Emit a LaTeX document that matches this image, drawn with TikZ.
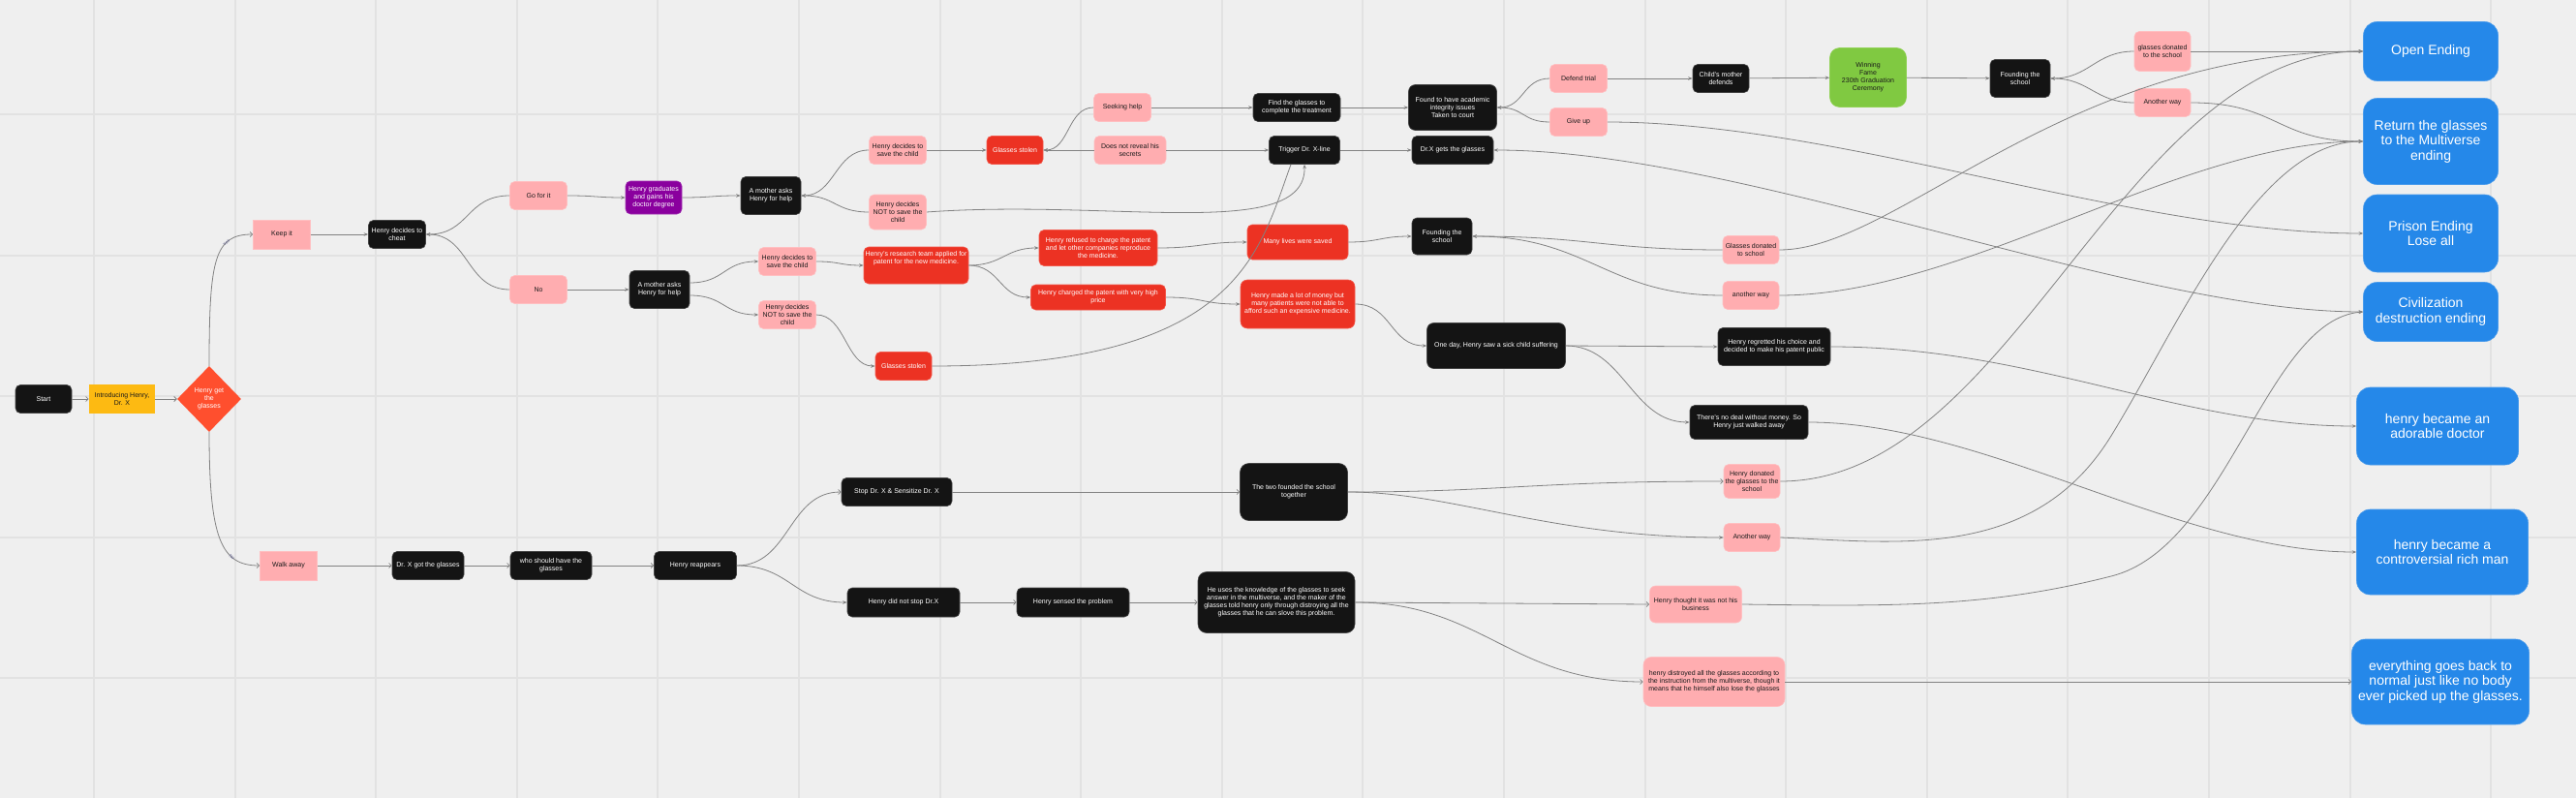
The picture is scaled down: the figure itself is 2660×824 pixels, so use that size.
\documentclass[tikz,border=0pt]{standalone}
\usepackage{fontspec}
\setmainfont{Liberation Sans}
\usetikzlibrary{arrows.meta,shapes.geometric}
\definecolor{bg}{HTML}{EFEFEF}
\definecolor{gridc}{HTML}{E2E2E2}
\definecolor{edgec}{HTML}{828282}
\definecolor{blkc}{HTML}{141414}
\definecolor{blkd}{HTML}{444444}
\definecolor{pnkc}{HTML}{FFADB0}
\definecolor{pnkd}{HTML}{FFBFC1}
\definecolor{redc}{HTML}{EC3223}
\definecolor{redd}{HTML}{F2584B}
\definecolor{bluc}{HTML}{2588E9}
\definecolor{blud}{HTML}{4A9BEB}
\definecolor{grnc}{HTML}{80C941}
\definecolor{grnd}{HTML}{90D155}
\definecolor{purc}{HTML}{8A009E}
\definecolor{purd}{HTML}{A030B0}
\definecolor{yelc}{HTML}{FDBA12}
\definecolor{diac}{HTML}{FF4F2E}
\definecolor{txtd}{HTML}{1A1A1A}
\definecolor{lblc}{HTML}{5A5A8A}
\tikzset{
  nd/.style={rounded corners=5pt, align=center, font=\fontsize{7}{8}\selectfont, inner sep=1pt, line width=0.6pt},
  blk/.style={nd, fill=blkc, draw=blkd, text=white},
  pnk/.style={nd, fill=pnkc, draw=pnkd, text=txtd},
  rdn/.style={nd, fill=redc, draw=redd, text=white},
  blu/.style={nd, rounded corners=14pt, fill=bluc, draw=blud, text=white, font=\fontsize{14}{15.5}\selectfont},
  wh/.style 2 args={minimum width=#1pt, minimum height=#2pt},
  lnk/.style={draw=edgec, line width=0.8pt},
  arr/.style={lnk, -{Stealth[length=4.5pt,width=3.5pt]}},
  arro/.style={lnk, -{Straight Barb[length=2.5pt,width=5pt]}},
  arrb/.style={lnk, {Stealth[length=4.5pt,width=3.5pt]}-{Stealth[length=4.5pt,width=3.5pt]}},
  lab/.style={font=\fontsize{4.5}{5}\selectfont, text=lblc, inner sep=0.5pt},
}
\begin{document}
\begin{tikzpicture}[x=1pt,y=-1pt]
\useasboundingbox (0,0) rectangle (2660,824);
\fill[bg] (0,0) rectangle (2660,824);
\foreach \i in {0,...,17} \draw[gridc, line width=2pt] ({97+145.6*\i},0) -- ({97+145.6*\i},824);
\foreach \j in {0,...,4} \draw[gridc, line width=2pt] (0,{118+145.6*\j}) -- (2660,{118+145.6*\j});

% nodes
\node[blk, wh={58}{29}] (start) at (45,412) {Start};
\node[nd, fill=yelc, text=txtd, rounded corners=0pt, wh={68}{30}] (intro) at (126,412) {Introducing Henry,\\ Dr. X};
\node[diamond, fill=diac, text=white, font=\fontsize{7}{8}\selectfont, align=center, inner sep=0pt, minimum width=66pt, minimum height=68pt] (dia) at (216,412) {Henry get\\ the\\ glasses};
\node[pnk, rounded corners=0pt, wh={59}{30}] (keep) at (291,242) {Keep it};
\node[blk, wh={59}{29}] (cheat) at (410,242) {Henry decides to\\ cheat};
\node[pnk, wh={59}{29}] (gofor) at (556,202) {Go for it};
\node[pnk, wh={59}{29}] (no) at (556,299) {No};
\node[nd, fill=purc, draw=purd, text=white, wh={58}{34}] (grad) at (675,204) {Henry graduates\\ and gains his\\ doctor degree};
\node[blk, wh={62}{39}] (mom1) at (796,202) {A mother asks\\ Henry for help};
\node[blk, wh={62}{39}] (mom2) at (681,299) {A mother asks\\ Henry for help};
\node[pnk, wh={59}{29}] (save1) at (927,155) {Henry decides to\\ save the child};
\node[pnk, wh={59}{36}] (not1) at (927,219) {Henry decides\\ NOT to save the\\ child};
\node[pnk, wh={59}{29}] (save2) at (813,270) {Henry decides to\\ save the child};
\node[pnk, wh={59}{29}] (not2) at (813,325) {Henry decides\\ NOT to save the\\ child};
\node[rdn, wh={58}{29}] (stolen1) at (1048,155) {Glasses stolen};
\node[pnk, wh={59}{29}] (seek) at (1159,111) {Seeking help};
\node[pnk, wh={74}{29}] (secret) at (1167,155) {Does not reveal his\\ secrets};
\node[blk, wh={90}{29}] (find) at (1339,111) {Find the glasses to\\ complete the treatment};
\node[blk, wh={73}{29}] (trig) at (1347,155) {Trigger Dr. X-line};
\node[blk, wh={91}{47}, rounded corners=7pt] (found) at (1500,111) {Found to have academic\\ integrity issues\\ Taken to court};
\node[blk, wh={84}{29}] (drx) at (1500,155) {Dr.X gets the glasses};
\node[pnk, wh={59}{29}] (defend) at (1630,81) {Defend trial};
\node[pnk, wh={59}{29}] (giveup) at (1630,126) {Give up};
\node[blk, wh={58}{29}] (mother) at (1777,81) {Child's mother\\ defends};
\node[nd, fill=grnc, draw=grnd, text=txtd, rounded corners=10pt, wh={79}{61}] (win) at (1929,80) {Winning\\ Fame\\ 230th Graduation\\ Ceremony};
\node[blk, wh={62}{39}] (found2) at (2086,81) {Founding the\\ school};
\node[pnk, wh={58}{41}] (gdon1) at (2233,53) {glasses donated\\ to the school};
\node[pnk, wh={58}{29}] (aw1) at (2233,106) {Another way};
\node[rdn, wh={108}{38}] (research) at (946,274) {Henry's research team applied for\\ patent for the new medicine.\\[8pt]~};
\node[rdn, wh={122}{37}] (refused) at (1134,256) {Henry refused to charge the patent\\ and let other companies reproduce\\ the medicine.};
\node[rdn, wh={139}{26}] (charged) at (1134,307) {Henry charged the patent with very high\\ price};
\node[rdn, wh={58}{29}] (stolen2) at (933,378) {Glasses stolen};
\node[rdn, wh={104}{36}] (lives) at (1340,250) {Many lives were saved};
\node[rdn, wh={118}{50}, rounded corners=7pt] (money) at (1340,314) {Henry made a lot of money but\\ many patients were not able to\\ afford such an expensive medicine.};
\node[blk, wh={62}{38}] (school) at (1489,244) {Founding the\\ school};
\node[blk, wh={143}{47}, rounded corners=7pt] (oneday) at (1545,357) {One day, Henry saw a sick child suffering};
\node[pnk, wh={58}{29}] (gdon2) at (1808,258) {Glasses donated\\ to school};
\node[pnk, wh={58}{29}] (aw2) at (1808,305) {another way};
\node[blk, wh={116}{39}] (regret) at (1832,358) {Henry regretted his choice and\\ decided to make his patent public};
\node[blk, wh={122}{35}] (nodeal) at (1806,436) {There's no deal without money. So\\ Henry just walked away};
\node[pnk, wh={58}{35}] (hdon) at (1809,497) {Henry donated\\ the glasses to the\\ school};
\node[pnk, wh={58}{29}] (aw3) at (1809,555) {Another way};
\node[pnk, rounded corners=0pt, wh={59}{30}] (walk) at (298,584) {Walk away};
\node[blk, wh={74}{29}] (drxgot) at (442,584) {Dr. X got the glasses};
\node[blk, wh={84}{29}] (who) at (569,584) {who should have the\\ glasses};
\node[blk, wh={85}{29}] (reap) at (718,584) {Henry reappears};
\node[blk, wh={114}{29}] (stop) at (926,508) {Stop Dr. X \& Sensitize Dr. X};
\node[blk, wh={116}{30}] (notstop) at (933,622) {Henry did not stop Dr.X};
\node[blk, wh={116}{30}] (sensed) at (1108,622) {Henry sensed the problem};
\node[blk, wh={111}{59}, rounded corners=9pt] (two) at (1336,508) {The two founded the school\\ together};
\node[blk, wh={162}{63}, rounded corners=9pt] (uses) at (1318,622) {He uses the knowledge of the glasses to seek\\ answer in the multiverse, and the maker of the\\ glasses told henry only through distroying all the\\ glasses that he can slove this problem.};
\node[pnk, wh={95}{38}, rounded corners=6pt] (thought) at (1751,624) {Henry thought it was not his\\ business};
\node[pnk, wh={146}{51}, rounded corners=8pt] (destroy) at (1770,704) {henry distroyed all the glasses according to\\ the instruction from the multiverse, though it\\ means that he himself also lose the glasses};
\node[blu, wh={139}{61}] (open) at (2510,53) {Open Ending};
\node[blu, wh={139}{89}] (ret) at (2510,146) {Return the glasses\\ to the Multiverse\\ ending};
\node[blu, wh={139}{80}] (prison) at (2510,241) {Prison Ending\\ Lose all};
\node[blu, wh={139}{61}] (civ) at (2510,322) {Civilization\\ destruction ending};
\node[blu, wh={167}{80}] (adorable) at (2517,440) {henry became an\\ adorable doctor};
\node[blu, wh={177}{88}] (rich) at (2522,570) {henry became a\\ controversial rich man};
\node[blu, wh={183}{88}] (every) at (2520,704) {everything goes back to\\ normal just like no body\\ ever picked up the glasses.};

% edges
\draw[arro] (start) -- (intro);
\draw[arro] (intro) -- (dia);
\draw[arro] (dia.north) .. controls +(0,-110) and +(-40,0) .. (keep.west) node[lab,pos=0.7,sloped]{Yes};
\draw[arro] (dia.south) .. controls +(0,110) and +(-40,0) .. (walk.west) node[lab,pos=0.7,sloped]{No};
\draw[arr] (keep) -- (cheat);
\draw[arr] (gofor.west) .. controls +(-45,0) and +(45,0) .. (cheat.east);
\draw[arr] (no.west) .. controls +(-45,0) and +(45,0) .. (cheat.east);
\draw[arr] (gofor.east) .. controls +(30,0) and +(-30,0) .. (grad.west);
\draw[arr] (grad.east) .. controls +(30,0) and +(-30,0) .. (mom1.west);
\draw[arr] (save1.west) .. controls +(-35,0) and +(35,0) .. (mom1.east);
\draw[arr] (not1.west) .. controls +(-35,0) and +(35,0) .. (mom1.east);
\draw[arr] (no.east) -- (mom2.west);
\draw[arr] ([yshift=7pt]mom2.east) .. controls +(36,0) and +(-36,0) .. (save2.west);
\draw[arr] ([yshift=-6pt]mom2.east) .. controls +(36,0) and +(-36,0) .. (not2.west);
\draw[arr] (save2.east) .. controls +(25,0) and +(-25,0) .. (research.west);
\draw[arr] (not2.east) .. controls +(30,0) and +(-30,0) .. (stolen2.west);
\draw[arr] (save1) -- (stolen1);
\draw[arr] (seek.west) .. controls +(-27,0) and +(27,0) .. (stolen1.east);
\draw[arr] (secret.west) -- (stolen1.east);
\draw[arr] (seek.east) -- (find.west);
\draw[arr] (secret.east) -- (trig.west);
\draw[arr] (not1.east) .. controls (1150,205) and (1349,250) .. (trig.south);
\draw[lnk] (stolen2.east) .. controls (1280,378) and (1300,260) .. ([xshift=-14pt]trig.south);
\draw[arr] (research.east) .. controls +(35,0) and +(-35,0) .. (refused.west);
\draw[arr] (research.east) .. controls +(32,0) and +(-32,0) .. (charged.west);
\draw[arr] (refused.east) .. controls +(45,0) and +(-45,0) .. (lives.west);
\draw[arr] (charged.east) .. controls +(40,0) and +(-40,0) .. (money.west);
\draw[arr] (lives.east) .. controls +(32,0) and +(-32,0) .. (school.west);
\draw[arr] (money.east) .. controls +(38,0) and +(-38,0) .. (oneday.west);
\draw[arr] (gdon2.west) .. controls +(-120,0) and +(120,0) .. (school.east);
\draw[arr] (aw2.west) .. controls +(-120,0) and +(120,0) .. (school.east);
\draw[arr] (oneday.east) -- (regret.west);
\draw[arr] (oneday.east) .. controls +(60,0) and +(-60,0) .. (nodeal.west);
\draw[arr] (find) -- (found);
\draw[arr] (trig) -- (drx);
\draw[arr] (defend.west) .. controls +(-28,0) and +(28,0) .. (found.east);
\draw[arr] (giveup.west) .. controls +(-28,0) and +(28,0) .. (found.east);
\draw[arr] (defend) -- (mother);
\draw[arr] (mother) -- (win);
\draw[arr] (win) -- (found2);
\draw[arr] (gdon1.west) .. controls +(-40,0) and +(40,0) .. (found2.east);
\draw[arr] (aw1.west) .. controls +(-40,0) and +(40,0) .. (found2.east);
\draw[arr] (gdon1) -- (open);
\draw[arr] (aw1.east) .. controls +(90,0) and +(-90,0) .. (ret.west);
\draw[arr] (gdon2.east) .. controls (1960,258) and (2130,53) .. (open.west);
\draw[arr] (aw2.east) .. controls (2030,305) and (2250,146) .. (ret.west);
\draw[arr] (aw3.east) .. controls (1960,560) and (2100,580) .. (2180,450) .. controls (2250,336) and (2330,146) .. (ret.west);
\draw[arr] (hdon.east) .. controls (2080,497) and (2190,53) .. (open.west);
\draw[arr] (giveup.east) .. controls (1900,126) and (2200,241) .. (prison.west);
\draw[arrb] (drx.east) .. controls (1800,155) and (2200,322) .. (civ.west);
\draw[arr] (thought.east) .. controls (1950,626) and (2050,628) .. (2180,595) .. controls (2300,565) and (2340,330) .. (civ.west);
\draw[arr] (regret.east) .. controls (2100,358) and (2250,440) .. (adorable.west);
\draw[arr] (nodeal.east) .. controls (2050,436) and (2250,570) .. (rich.west);
\draw[arro] (destroy) -- (every);
\draw[arro] (two.east) .. controls +(160,0) and +(-200,0) .. (hdon.west);
\draw[arr] (two.east) .. controls (1500,508) and (1600,555) .. (aw3.west);
\draw[arro] (reap.east) .. controls +(55,0) and +(-55,0) .. (stop.west);
\draw[arr] (reap.east) .. controls +(55,0) and +(-55,0) .. (notstop.west);
\draw[arro] (stop) -- (two);
\draw[arro] (notstop) -- (sensed);
\draw[arro] (sensed) -- (uses);
\draw[arro] (uses.east) -- (thought.west);
\draw[arro] (uses.east) .. controls (1530,622) and (1560,704) .. (destroy.west);
\draw[arro] (walk) -- (drxgot);
\draw[arro] (drxgot) -- (who);
\draw[arro] (who) -- (reap);
\end{tikzpicture}
\end{document}
